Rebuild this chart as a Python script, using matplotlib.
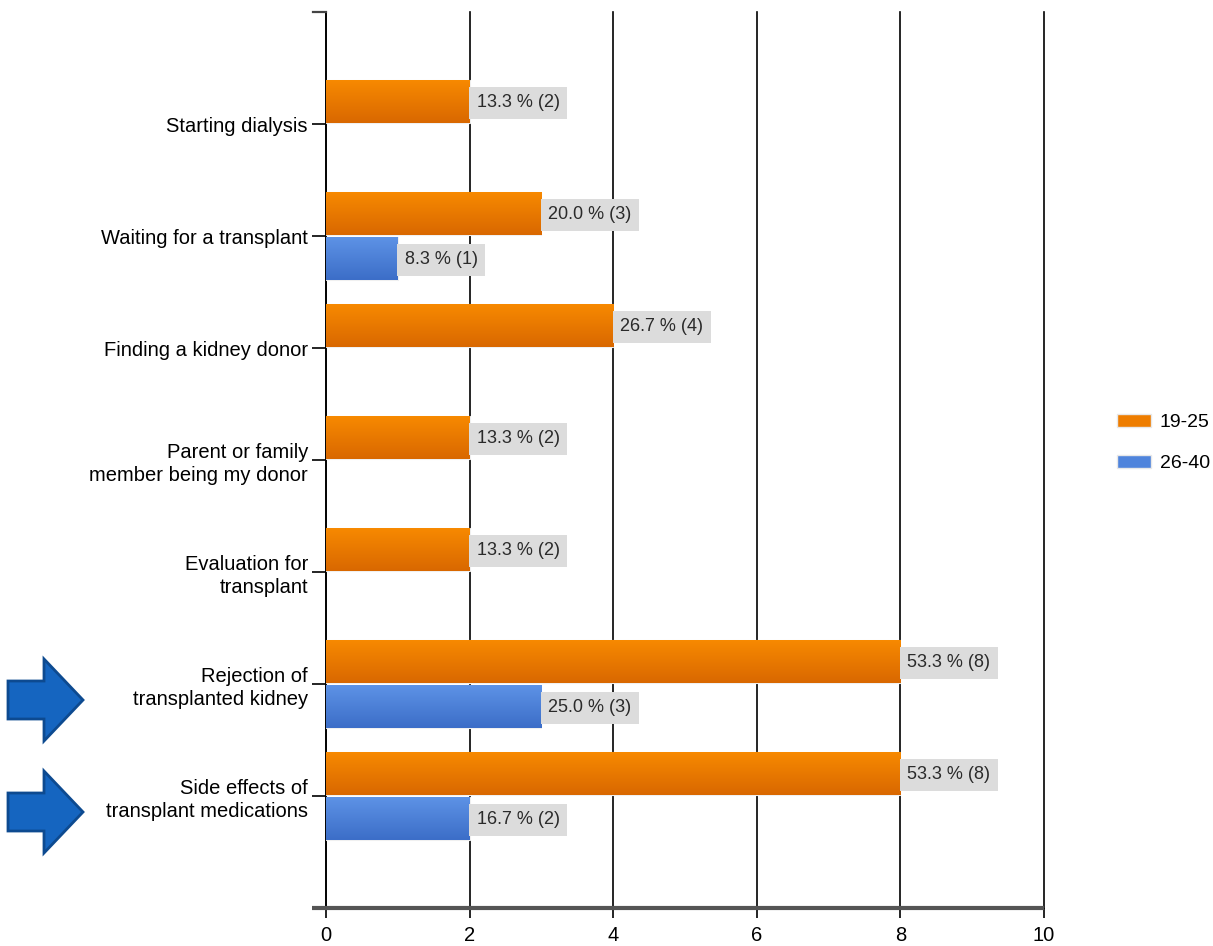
import numpy as np
import matplotlib
matplotlib.use("Agg")
import matplotlib.pyplot as plt
from matplotlib.patches import Polygon, Patch

categories = [
    "Starting dialysis",
    "Waiting for a transplant",
    "Finding a kidney donor",
    "Parent or family\nmember being my donor",
    "Evaluation for\ntransplant",
    "Rejection of\ntransplanted kidney",
    "Side effects of\ntransplant medications",
]
series_names = ["19-25", "26-40"]
counts_19_25 = [2, 3, 4, 2, 2, 8, 8]
counts_26_40 = [0, 1, 0, 0, 0, 3, 2]
pct_19_25 = [13.3, 20.0, 26.7, 13.3, 13.3, 53.3, 53.3]
pct_26_40 = [0.0, 8.3, 0.0, 0.0, 0.0, 25.0, 16.7]
x_ticks = [0, 2, 4, 6, 8, 10]

FONT = ["Liberation Sans", "DejaVu Sans"]
plt.rcParams["font.family"] = FONT

W, H = 1213, 946
fig = plt.figure(figsize=(W / 100, H / 100), dpi=100)
ax = fig.add_axes([326 / W, 1 - 908 / H, (1044 - 326) / W, (908 - 12) / H])

ORANGE_TOP, ORANGE_BOT = "#f88a00", "#d96800"
BLUE_TOP, BLUE_BOT = "#5e93e6", "#3c6ec8"

y = np.arange(len(categories))
bh = 0.39


def gradient_bars(vals, offset, top, bot):
    bars = ax.barh(y + offset, vals, height=bh, color=bot,
                   edgecolor="#f0f0f0", linewidth=0.8, zorder=3)
    grad = np.linspace(0, 1, 64).reshape(-1, 1)
    cmap = matplotlib.colors.LinearSegmentedColormap.from_list("g", [top, bot])
    for b in bars:
        if b.get_width() <= 0:
            b.set_visible(False)
            continue
        x0, yb, w, h = b.get_x(), b.get_y(), b.get_width(), b.get_height()
        im = ax.imshow(grad, cmap=cmap, aspect="auto",
                       extent=(x0, x0 + w, yb + h, yb), zorder=3.5,
                       origin="upper")
        im.set_clip_path(b)
    return bars


gradient_bars(counts_19_25, -0.2, ORANGE_TOP, ORANGE_BOT)
gradient_bars(counts_26_40, 0.2, BLUE_TOP, BLUE_BOT)

# value labels: "pct % (n)" in grey boxes
for vals, pcts, off in ((counts_19_25, pct_19_25, -0.2), (counts_26_40, pct_26_40, 0.2)):
    for i, (v, p) in enumerate(zip(vals, pcts)):
        if v <= 0:
            continue
        ax.annotate(f"{p:.1f} % ({v})", xy=(v, i + off), xytext=(5, -1),
                    textcoords="offset points", va="center", ha="left",
                    fontsize=13, color="#2a2a2a", zorder=5,
                    bbox=dict(boxstyle="square,pad=0.42", fc="#dcdcdc", ec="none"))

ax.set_xlim(0, 10)
ax.set_ylim(len(categories), -1)
ax.set_xticks(x_ticks)
ax.set_xticklabels([str(t) for t in x_ticks], fontsize=14.5)
ax.set_yticks(y)
ax.set_yticklabels(categories, fontsize=14.5, linespacing=1.25)
ax.tick_params(axis="y", length=10, width=1.2, pad=3, colors="black")
ax.tick_params(axis="x", length=7, width=1.2, pad=6, colors="black")

for xv in x_ticks[1:]:
    ax.axvline(xv, color="black", lw=1.2, zorder=1, clip_on=False)

for s in ("top", "right", "bottom"):
    ax.spines[s].set_visible(False)
ax.spines["left"].set_linewidth(1.4)

# heavy baseline extending slightly left of the value axis
ax.plot([-0.02, 1.0], [0, 0], transform=ax.transAxes, color="#555555",
        lw=3, clip_on=False, zorder=6, solid_capstyle="butt")
ax.plot([-0.018, 0], [1, 1], transform=ax.transAxes, color="#444444",
        lw=1.6, clip_on=False, zorder=6)

handles = [Patch(facecolor="#ee7d00", edgecolor="#e8e8e8"),
           Patch(facecolor="#4f84dc", edgecolor="#e8e8e8")]
fig.legend(handles, series_names, loc="center left",
           bbox_to_anchor=(1117 / W, 1 - 443 / H), frameon=False,
           fontsize=14, handlelength=1.75, handleheight=0.7,
           labelspacing=1.2, handletextpad=0.45,
           borderpad=0, borderaxespad=0)


def block_arrow(yc):
    pts = [(8, yc - 19), (44, yc - 19), (44, yc - 41), (83, yc),
           (44, yc + 41), (44, yc + 19), (8, yc + 19)]
    pts = [(px / W, 1 - py / H) for px, py in pts]
    fig.patches.append(Polygon(pts, closed=True, transform=fig.transFigure,
                               fc="#1565c0", ec="#0d4a90", lw=2))


block_arrow(700)
block_arrow(812)

fig.savefig("out.png", dpi=100)
